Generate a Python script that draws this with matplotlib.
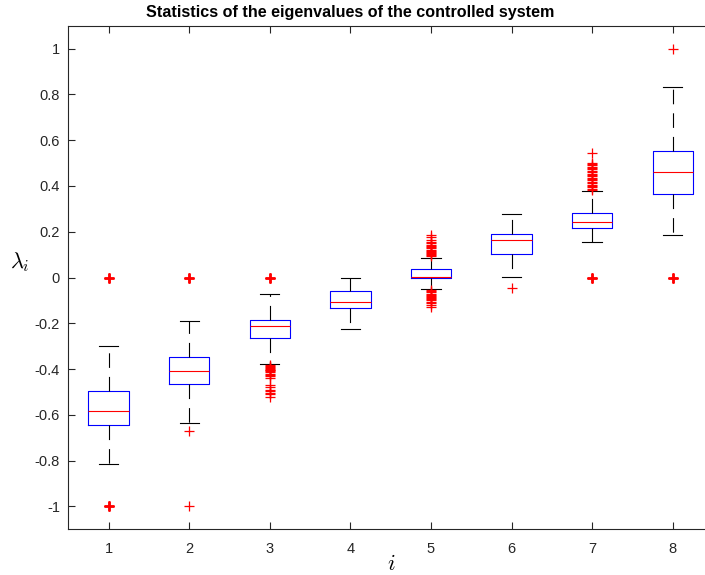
import numpy as np
import matplotlib.pyplot as plt
from collections import Counter

plt.rcParams['font.family'] = ['Liberation Sans', 'DejaVu Sans']
plt.rcParams['mathtext.fontset'] = 'cm'
plt.rcParams['axes.unicode_minus'] = False
plt.rcParams['lines.scale_dashes'] = False

# ===== 箱线图统计量 =====
idx = [1, 2, 3, 4, 5, 6, 7, 8]
whis_hi = [-0.298, -0.191, -0.074, 0.000, 0.087, 0.276, 0.376, 0.834]
q3 = [-0.498, -0.349, -0.185, -0.061, 0.038, 0.191, 0.281, 0.553]
med = [-0.582, -0.409, -0.210, -0.106, 0.002, 0.163, 0.243, 0.462]
q1 = [-0.645, -0.464, -0.263, -0.134, 0.000, 0.103, 0.217, 0.364]
whis_lo = [-0.814, -0.636, -0.379, -0.223, -0.049, 0.001, 0.154, 0.186]

# 离群点 (重复的值 = 重叠点)
out1 = [0, 0, 0, -1, -1, -1]
out2 = [0, 0, 0, -0.671, -1]
out3 = [0, 0, 0,
        -0.382, -0.386, -0.390, -0.394, -0.398, -0.402, -0.406, -0.410,
        -0.414, -0.420, -0.426, -0.432, -0.438, -0.470, -0.479,
        -0.490, -0.497, -0.504, -0.511, -0.521]
out4 = []
out5 = [0.092, 0.097, 0.102, 0.107, 0.112, 0.117, 0.122, 0.127, 0.132,
        0.137, 0.142, 0.150, 0.156, 0.166, 0.175, 0.185,
        -0.055, -0.060, -0.065, -0.070, -0.075, -0.080, -0.085, -0.090,
        -0.095, -0.100, -0.105, -0.112, -0.121, -0.130]
out6 = [-0.048]
out7 = [0.382, 0.388, 0.394, 0.400, 0.406, 0.412, 0.418, 0.424, 0.430,
        0.436, 0.442, 0.448, 0.454, 0.460, 0.466, 0.472, 0.478, 0.484,
        0.490, 0.496, 0.502, 0.545,
        0, 0, 0]
out8 = [1.0, 0, 0, 0]
outliers = [out1, out2, out3, out4, out5, out6, out7, out8]

yticks = [-1, -0.8, -0.6, -0.4, -0.2, 0, 0.2, 0.4, 0.6, 0.8, 1]
ytick_labels = ['-1', '-0.8', '-0.6', '-0.4', '-0.2', '0', '0.2', '0.4', '0.6', '0.8', '1']

stats = []
for k in range(len(idx)):
    stats.append(dict(med=med[k], q1=q1[k], q3=q3[k], whislo=whis_lo[k],
                      whishi=whis_hi[k], fliers=np.array(outliers[k])))

# ==================== 画图 ====================
W, H = 705, 575
fig = plt.figure(figsize=(W / 100, H / 100), dpi=100)
ax = fig.add_axes([68.3 / W, 1 - 529.3 / H, (713 - 68.3) / W, (529.3 - 25.7) / H])

ax.bxp(stats, positions=idx, widths=0.5, capwidths=0.24,
       boxprops=dict(color='blue', lw=0.8),
       medianprops=dict(color='red', lw=0.8),
       whiskerprops=dict(color='black', lw=0.8, ls=(0, (10.5, 6.5))),
       capprops=dict(color='black', lw=0.8),
       flierprops=dict(marker='+', markeredgecolor='red', markersize=7.5,
                       markeredgewidth=0.9, linestyle='none'))

# 重叠的离群点画粗一点
for k, vals in enumerate(outliers):
    dup = [v for v, c in Counter(vals).items() if c > 1]
    if dup:
        ax.plot([idx[k]] * len(dup), dup, '+', color='red', markersize=7.5,
                markeredgewidth=2.0)

ax.set_xlim(0.5, 8.5)
ax.set_ylim(-1.1, 1.1)
ax.set_xticks(idx)
ax.set_xticklabels([str(i) for i in idx])
ax.set_yticks(yticks)
ax.set_yticklabels(ytick_labels)

for s in ax.spines.values():
    s.set_color('#262626')
    s.set_linewidth(0.8)
ax.tick_params(direction='in', length=5, width=0.8, color='#262626',
               labelcolor='#262626', labelsize=10.5, top=True, right=True)
ax.tick_params(axis='x', pad=9)
ax.tick_params(axis='y', pad=6)

fig.text(350 / W, 1 - 12 / H, 'Statistics of the eigenvalues of the controlled system',
         ha='center', va='center', fontsize=11.6, fontweight='bold')
fig.text(391 / W, 1 - 564 / H, r'$i$', ha='center', va='center', fontsize=16)
fig.text(20 / W, 1 - 262 / H, r'$\lambda_i$', ha='center', va='center', fontsize=16)

plt.savefig('out.png', dpi=100)
